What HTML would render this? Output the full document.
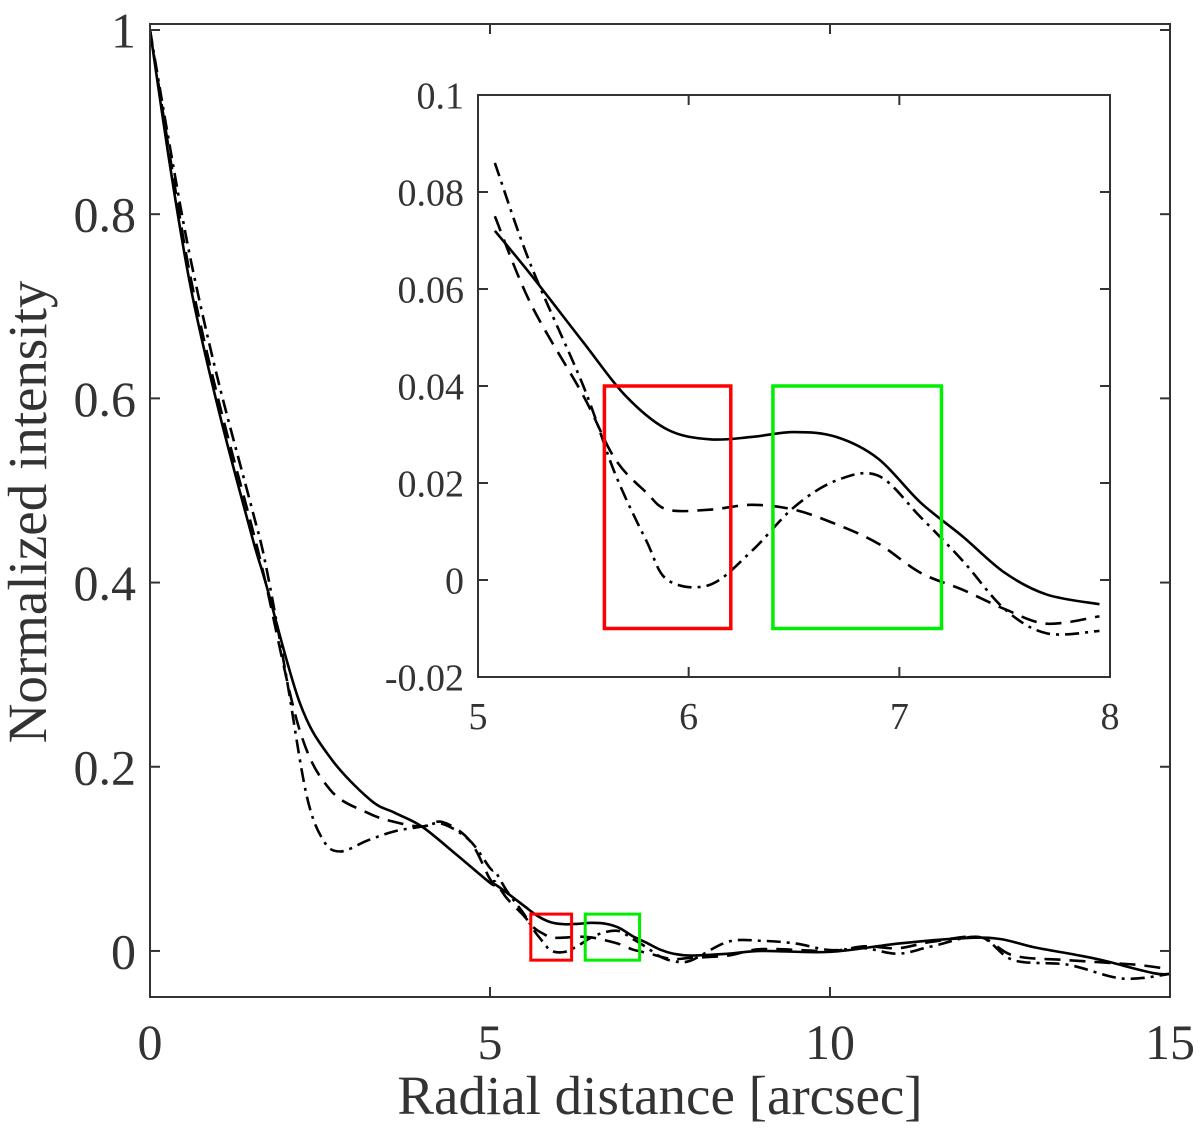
<!DOCTYPE html>
<html><head><meta charset="utf-8"><style>
body{margin:0;background:#fff;}
svg{display:block;font-family:"Liberation Serif",serif;}
</style></head><body>
<svg id="chart" width="1200" height="1133"></svg>
<script>
const xSolid=[0,0.3,0.6,1,1.5,1.7,2.2,2.65,3.24,3.6,4,4.5,5,5.08,5.25,5.5,5.7,5.9,6.1,6.3,6.5,6.7,6.9,7.1,7.3,7.5,7.7,7.95,8.5,9,10,11,12,12.5,13,13.6,14,14.75,15];
const ySolid=[1,0.85,0.72,0.59,0.45,0.4,0.27,0.21,0.164,0.15,0.135,0.105,0.074,0.072,0.063,0.049,0.038,0.031,0.029,0.0295,0.0305,0.0295,0.025,0.016,0.009,0.0015,-0.003,-0.005,-0.003,0,-0.001,0.008,0.014,0.013,0.004,-0.004,-0.01,-0.024,-0.025];
const xDash=[0,0.3,0.6,1,1.5,1.7,2.2,2.65,3.2,3.6,4,4.3,4.7,5,5.08,5.25,5.5,5.65,5.8,5.9,6.1,6.3,6.5,6.7,6.9,7.1,7.3,7.5,7.7,7.95,8.5,9,10,10.5,11,11.5,12.2,12.7,13.5,14.5,15];
const yDash=[1,0.86,0.73,0.6,0.46,0.4,0.24,0.175,0.15,0.14,0.135,0.14,0.12,0.078,0.075,0.057,0.038,0.025,0.018,0.0145,0.0145,0.0155,0.0145,0.0115,0.0075,0.0015,-0.002,-0.006,-0.009,-0.0075,-0.005,0.002,0,0.005,0.003,0.01,0.015,-0.005,-0.01,-0.015,-0.02];
const xDot=[0,0.3,0.6,1,1.5,1.7,2.0,2.3,2.55,2.8,3.2,3.6,4,4.3,4.7,5,5.08,5.25,5.5,5.65,5.8,5.9,6.1,6.3,6.5,6.7,6.9,7.1,7.3,7.5,7.7,7.95,8.5,9,9.5,10,10.5,11,11.5,12.2,12.7,13.5,14.3,15];
const yDot=[1,0.87,0.75,0.62,0.48,0.42,0.3,0.17,0.12,0.108,0.12,0.13,0.135,0.138,0.12,0.09,0.086,0.065,0.04,0.022,0.008,0,-0.001,0.006,0.015,0.0205,0.0215,0.013,0.004,-0.006,-0.011,-0.0105,0.01,0.011,0.008,0.001,0.003,-0.003,0.005,0.015,-0.01,-0.015,-0.03,-0.025];
const mainXTicks=[0,5,10,15], mainXLabels=["0","5","10","15"];
const mainYTicks=[0,0.2,0.4,0.6,0.8,1], mainYLabels=["0","0.2","0.4","0.6","0.8","1"];
const insXTicks=[5,6,7,8], insXLabels=["5","6","7","8"];
const insYTicks=[-0.02,0,0.02,0.04,0.06,0.08,0.1], insYLabels=["-0.02","0","0.02","0.04","0.06","0.08","0.1"];
const boxes=[{x0:5.6,x1:6.2,y0:-0.01,y1:0.04,c:"#ff0000",n:"red-highlight-box"},{x0:6.4,x1:7.2,y0:-0.01,y1:0.04,c:"#00ee00",n:"green-highlight-box"}];

const NS="http://www.w3.org/2000/svg";
const svg=document.getElementById('chart');
function mk(t,a,p){const e=document.createElementNS(NS,t);for(const k in a)e.setAttribute(k,a[k]);(p||svg).appendChild(e);return e;}
function smooth(pts){let d="M"+pts[0][0]+","+pts[0][1];for(let i=0;i<pts.length-1;i++){const p0=pts[i-1]||pts[i],p1=pts[i],p2=pts[i+1],p3=pts[i+2]||p2;
 const c1=[p1[0]+(p2[0]-p0[0])/6,p1[1]+(p2[1]-p0[1])/6],c2=[p2[0]-(p3[0]-p1[0])/6,p2[1]-(p3[1]-p1[1])/6];
 d+=" C"+c1[0]+","+c1[1]+" "+c2[0]+","+c2[1]+" "+p2[0]+","+p2[1];}return d;}

function axes(cfg){
 const {L,R,T,B,xmin,xmax,ymin,ymax,fs,pre,xr}=cfg;
 const sx=v=>L+(v-xmin)/(xmax-xmin)*(R-L), sy=v=>B-(v-ymin)/(ymax-ymin)*(B-T);
 const g=mk('g',{});
 
 
 const clipId=pre+'clip';
 const cp=mk('clipPath',{id:clipId},g);mk('rect',{x:L,y:T,width:R-L,height:B-T},cp);
 const series=[[cfg.xs[0],cfg.ys[0],"none","solid"],[cfg.xs[1],cfg.ys[1],"16,9","dashed"],[cfg.xs[2],cfg.ys[2],"14,6,3,6","dashdot"]];
 const lg=mk('g',{'clip-path':'url(#'+clipId+')'},g);
 series.forEach(s=>{const pts=[];for(let i=0;i<s[0].length;i++){if(s[0][i]>=xr[0]&&s[0][i]<=xr[1])pts.push([sx(s[0][i]),sy(s[1][i])]);}
  const p=mk('path',{d:smooth(pts),fill:'none',stroke:'#000','stroke-width':cfg.lw,'stroke-dasharray':s[2]},lg);
  
  });
 boxes.forEach(b=>{const r=mk('rect',{x:sx(b.x0),y:sy(b.y1),width:sx(b.x1)-sx(b.x0),height:sy(b.y0)-sy(b.y1),fill:'none',stroke:b.c,'stroke-width':cfg.bw},g);
  
  });
 const f=mk('rect',{x:L,y:T,width:R-L,height:B-T,fill:'none',stroke:'#333','stroke-width':2},g);
 
 
 cfg.xt.forEach((v,i)=>{const x=sx(v);mk('line',{x1:x,x2:x,y1:B,y2:B-10,stroke:'#333','stroke-width':2},g);mk('line',{x1:x,x2:x,y1:T,y2:T+10,stroke:'#333','stroke-width':2},g);
  const t=mk('text',{x:x,y:B+cfg.xoff,'font-size':fs,'text-anchor':'middle',fill:'#333'},g);t.textContent=cfg.xl[i];
  
  });
 cfg.yt.forEach((v,i)=>{const y=sy(v);mk('line',{x1:L,x2:L+10,y1:y,y2:y,stroke:'#333','stroke-width':2},g);mk('line',{x1:R,x2:R-10,y1:y,y2:y,stroke:'#333','stroke-width':2},g);
  const t=mk('text',{x:L-cfg.yoff,y:y+fs*0.35,'font-size':fs,'text-anchor':'end',fill:'#333'},g);t.textContent=cfg.yl[i];
  
  });
}
const bg=mk('rect',{x:0,y:0,width:1200,height:1133,fill:'#fff'});


axes({L:150,R:1170,T:24,B:997,xmin:0,xmax:15,ymin:-0.05,ymax:1.0065,fs:50,pre:'main',xr:[0,15],
 xs:[xSolid,xDash,xDot],ys:[ySolid,yDash,yDot],xt:mainXTicks,xl:mainXLabels,yt:mainYTicks,yl:mainYLabels,xoff:62,yoff:14,lw:2.6,bw:3});
const ib=mk('rect',{x:478,y:95,width:632,height:582,fill:'#fff'});


axes({L:478,R:1110,T:95,B:677,xmin:5,xmax:8,ymin:-0.02,ymax:0.1,fs:38,pre:'inset',xr:[5.05,7.96],
 xs:[xSolid,xDash,xDot],ys:[ySolid,yDash,yDot],xt:insXTicks,xl:insXLabels,yt:insYTicks,yl:insYLabels,xoff:52,yoff:14,lw:2.6,bw:3.5});
const xt=mk('text',{x:660,y:1114,'font-size':55,'text-anchor':'middle',fill:'#333'});
xt.textContent='Radial distance [arcsec]';


const yt=mk('text',{x:0,y:0,'font-size':55,'text-anchor':'middle',fill:'#333',transform:'translate(46,512) rotate(-90)'});
yt.textContent='Normalized intensity';


</script>
</body></html>
